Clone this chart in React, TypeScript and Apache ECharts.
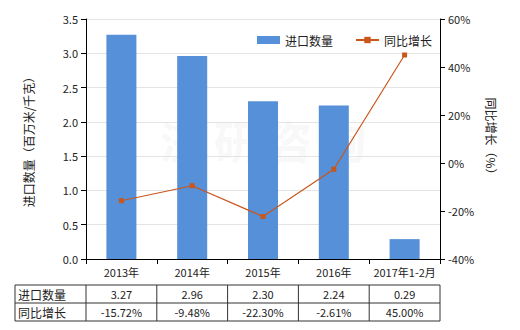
import React, { useEffect, useRef } from "react";
import * as echarts from "echarts";

const categories = ["2013年", "2014年", "2015年", "2016年", "2017年1-2月"];
const importQty = [3.27, 2.96, 2.3, 2.24, 0.29];
const yoyGrowth = [-15.72, -9.48, -22.3, -2.61, 45.0];
const qtyLabels = ["3.27", "2.96", "2.30", "2.24", "0.29"];
const yoyLabels = ["-15.72%", "-9.48%", "-22.30%", "-2.61%", "45.00%"];
const seriesNames = ["进口数量", "同比增长"];

const FONT = "Noto Sans CJK SC";

export default function App() {
  const ref = useRef<HTMLDivElement>(null);
  useEffect(() => {
    if (!ref.current) return;
    const chart = echarts.init(ref.current, null, { renderer: "svg" });
    const gridLeft = 86;
    const gridRight = 440;
    const colW = (gridRight - gridLeft) / categories.length;
    const tTop = 285;
    const rowH = 18;
    const lineStyle = { stroke: "#333", lineWidth: 1 };
    const graphics: any[] = [];
    const xs = [15, ...categories.map((_, i) => gridLeft + i * colW), gridRight];
    xs.forEach((x) =>
      graphics.push({ type: "line", shape: { x1: x, y1: tTop, x2: x, y2: tTop + 2 * rowH }, style: lineStyle })
    );
    [0, 1, 2].forEach((r) =>
      graphics.push({ type: "line", shape: { x1: 15, y1: tTop + r * rowH, x2: gridRight, y2: tTop + r * rowH }, style: lineStyle })
    );
    const rows = [qtyLabels, yoyLabels];
    rows.forEach((vals, r) => {
      graphics.push({
        type: "text",
        x: 18,
        y: tTop + r * rowH + rowH / 2,
        style: { text: seriesNames[r], fill: "#222", font: `12px '${FONT}'`, textVerticalAlign: "middle" },
      });
      vals.forEach((v, i) =>
        graphics.push({
          type: "text",
          x: gridLeft + (i + 0.5) * colW,
          y: tTop + r * rowH + rowH / 2,
          style: { text: v, fill: "#222", font: `11px '${FONT}'`, textAlign: "center", textVerticalAlign: "middle" },
        })
      );
    });
    graphics.push({
      type: "text",
      x: 263,
      y: 140,
      z: -1,
      style: {
        text: "济 研 咨 询",
        fill: "rgba(200,200,200,0.15)",
        font: `bold 44px '${FONT}'`,
        textAlign: "center",
        textVerticalAlign: "middle",
      },
    });

    chart.setOption({
      animation: false,
      textStyle: { fontFamily: FONT },
      grid: { left: gridLeft, right: 520 - gridRight, top: 19, bottom: 71 },
      legend: {
        top: 29,
        left: 252,
        itemWidth: 23,
        itemHeight: 8,
        itemGap: 22,
        textStyle: { fontSize: 12, color: "#222", fontFamily: FONT },
        data: [
          { name: seriesNames[0], icon: "rect" },
          { name: seriesNames[1] },
        ],
      },
      xAxis: {
        type: "category",
        data: categories,
        axisLine: { lineStyle: { color: "#000" } },
        axisTick: { show: true, lineStyle: { color: "#000" } },
        axisLabel: { color: "#222", fontSize: 11, margin: 7, interval: 0 },
      },
      yAxis: [
        {
          type: "value",
          min: 0,
          max: 3.5,
          interval: 0.5,
          name: "进口数量（百万米/千克）",
          nameLocation: "middle",
          nameGap: 52,
          nameRotate: 90,
          nameTextStyle: { fontSize: 12, color: "#222" },
          axisLine: { show: true, lineStyle: { color: "#000" } },
          axisTick: { show: true, lineStyle: { color: "#000" } },
          axisLabel: { color: "#222", fontSize: 11, formatter: (v: number) => v.toFixed(1) },
          splitLine: { lineStyle: { color: "#e4e4e4" } },
        },
        {
          type: "value",
          min: -40,
          max: 60,
          interval: 20,
          name: "同比增长（%）",
          nameLocation: "middle",
          nameGap: 42,
          nameRotate: -90,
          nameTextStyle: { fontSize: 12, color: "#222" },
          axisLine: { show: true, lineStyle: { color: "#000" } },
          axisTick: { show: true, lineStyle: { color: "#000" } },
          axisLabel: { color: "#222", fontSize: 11, formatter: "{value}%" },
          splitLine: { show: false },
        },
      ],
      series: [
        {
          name: seriesNames[0],
          type: "bar",
          data: importQty,
          barWidth: 30,
          itemStyle: { color: "#5590d8" },
        },
        {
          name: seriesNames[1],
          type: "line",
          yAxisIndex: 1,
          data: yoyGrowth,
          symbol: "rect",
          symbolSize: 5,
          itemStyle: { color: "#c9561a" },
          lineStyle: { color: "#c9561a", width: 1.2 },
        },
      ],
      graphic: graphics,
    });
    return () => chart.dispose();
  }, []);
  return <div ref={ref} style={{ width: 520, height: 330, position: "absolute", left: 0, top: 0 }} />;
}
